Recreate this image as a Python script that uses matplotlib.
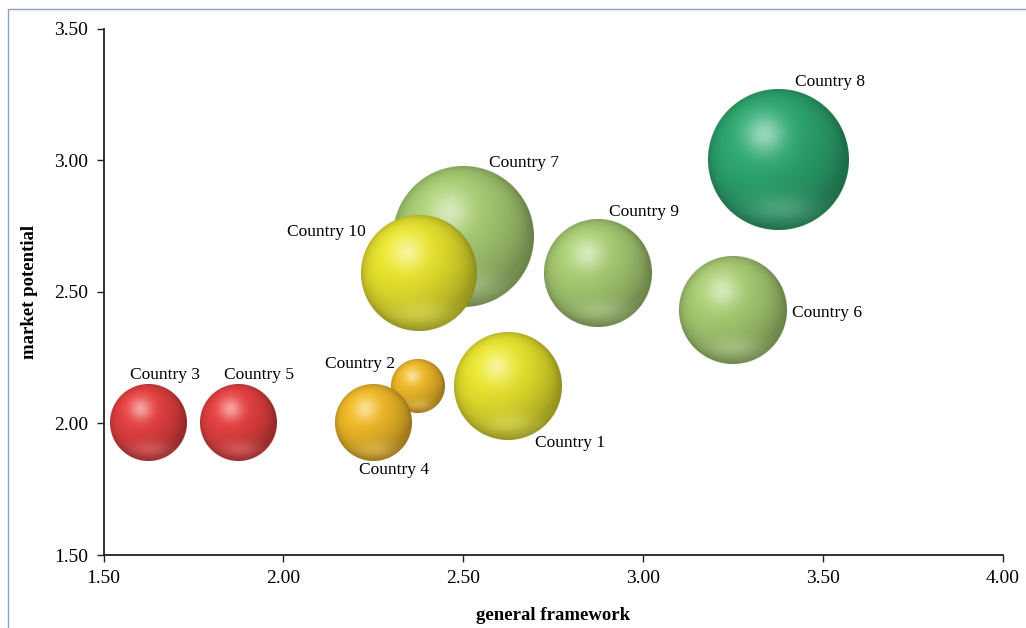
import numpy as np
import matplotlib
matplotlib.use("Agg")
import matplotlib.pyplot as plt
from matplotlib.colors import to_rgb
from matplotlib.patches import Rectangle

# ---------------- data ----------------
countries = ["Country 1", "Country 2", "Country 3", "Country 4", "Country 5",
             "Country 6", "Country 7", "Country 8", "Country 9", "Country 10"]
general_framework = [2.625, 2.375, 1.625, 2.25, 1.875, 3.25, 2.50, 3.375, 2.875, 2.375]
market_potential = [2.14, 2.14, 2.00, 2.00, 2.00, 2.43, 2.71, 3.00, 2.57, 2.57]
bubble_size = [4.0, 1.0, 2.0, 2.0, 2.0, 4.0, 6.8, 6.8, 4.0, 4.6]
bubble_color = ["#e8e42d", "#f0b928", "#e64040", "#f0b928", "#e64040",
                "#a8cd73", "#a8cd73", "#2da870", "#a8cd73", "#e8e42d"]
x_ticks = [1.50, 2.00, 2.50, 3.00, 3.50, 4.00]
y_ticks = [1.50, 2.00, 2.50, 3.00, 3.50]

# label offsets (pixels, relative to bubble centre) - layout only
label_offsets = {
    "Country 1": (62, -56), "Country 2": (-58, 23), "Country 3": (17, 48),
    "Country 4": (21, -47), "Country 5": (21, 48), "Country 6": (94, -3),
    "Country 7": (61, 73), "Country 8": (52, 78), "Country 9": (46, 61),
    "Country 10": (-92, 41),
}

plt.rcParams['font.family'] = ['Liberation Serif', 'DejaVu Serif']

W, H, DPI = 1026, 628, 100
fig = plt.figure(figsize=(W / DPI, H / DPI), dpi=DPI)
fig.patch.set_facecolor("white")

# outer chart border
fig.add_artist(Rectangle((8 / W, -0.05), 1.2, 1 - 9 / H + 0.05,
                         transform=fig.transFigure, fill=False,
                         edgecolor="#8da0c6", linewidth=1.0))

left, right = 103.5 / W, 1003 / W
bottom, top = 1 - 555 / H, 1 - 28.5 / H
ax = fig.add_axes([left, bottom, right - left, top - bottom])
ax.set_xlim(1.5, 4.0)
ax.set_ylim(1.5, 3.5)

for s in ["top", "right"]:
    ax.spines[s].set_visible(False)
for s in ["left", "bottom"]:
    ax.spines[s].set_linewidth(1.3)
    ax.spines[s].set_color("#222222")

ax.set_xticks(x_ticks)
ax.set_yticks(y_ticks)
ax.set_xticklabels([f"{t:.2f}" for t in x_ticks])
ax.set_yticklabels([f"{t:.2f}" for t in y_ticks])
ax.tick_params(direction="out", length=5, width=1.0, labelsize=14, pad=6,
               color="#222222")
ax.set_xlabel("general framework", fontsize=13.5, fontweight="bold", va="center")
ax.set_ylabel("market potential", fontsize=13.5, fontweight="bold", va="center")
ax.xaxis.set_label_coords(0.5, (555 - 616) / 526.5)
ax.yaxis.set_label_coords((30 - 103.5) / 899.5, 0.5)


def sphere_rgba(color, n):
    base = np.array(to_rgb(color))
    t = (np.arange(n) + 0.5) / n * 2 - 1
    u, v = np.meshgrid(t, -t)
    d2 = u ** 2 + v ** 2
    z = np.sqrt(np.clip(1 - d2, 0, 1))
    L = np.array([-0.35, 0.45, 0.85])
    L = L / np.linalg.norm(L)
    diff = np.clip(u * L[0] + v * L[1] + z * L[2], 0, 1)
    shade = 0.70 + 0.33 * diff
    rgb = np.clip(base[None, None, :] * shade[..., None], 0, 1)
    # edge darkening
    rim = 0.12 * np.clip(d2, 0, 1) ** 6
    rgb = rgb * (1 - rim[..., None])
    # specular highlight
    h = 0.50 * np.exp(-((u + 0.2) ** 2 + (v - 0.36) ** 2) / (2 * 0.20 ** 2))
    rgb = rgb * (1 - h[..., None]) + h[..., None]
    # bottom reflection
    lite = np.clip(base * 0.6 + 0.4, 0, 1)
    r = 0.40 * np.exp(-((u - 0.05) ** 2 / (2 * 0.35 ** 2) + (v + 0.70) ** 2 / (2 * 0.15 ** 2)))
    rgb = rgb * (1 - r[..., None]) + r[..., None] * lite[None, None, :]
    alpha = np.clip((1 - np.sqrt(d2)) * n / 2 + 0.5, 0, 1)
    return np.dstack([np.clip(rgb, 0, 1), alpha])


k_px = 26.9  # pixel radius for bubble size 1 (area scaling)
fig.canvas.draw()
inv = ax.transData.inverted()
for i, name in enumerate(countries):
    x, y = general_framework[i], market_potential[i]
    r_px = k_px * np.sqrt(bubble_size[i])
    px, py = ax.transData.transform((x, y))
    (x0, y0) = inv.transform((px - r_px, py - r_px))
    (x1, y1) = inv.transform((px + r_px, py + r_px))
    n = int(r_px * 4)
    img = sphere_rgba(bubble_color[i], n)
    ax.imshow(img, extent=[x0, x1, y0, y1], aspect="auto",
              interpolation="antialiased", zorder=2 + i)
    dx, dy = label_offsets[name]
    ax.annotate(name, (x, y), xytext=(dx * 72 / DPI, dy * 72 / DPI),
                textcoords="offset points", ha="center", va="center",
                fontsize=12.5, zorder=20)

ax.set_xlim(1.5, 4.0)
ax.set_ylim(1.5, 3.5)

fig.savefig("out.png", dpi=DPI)
